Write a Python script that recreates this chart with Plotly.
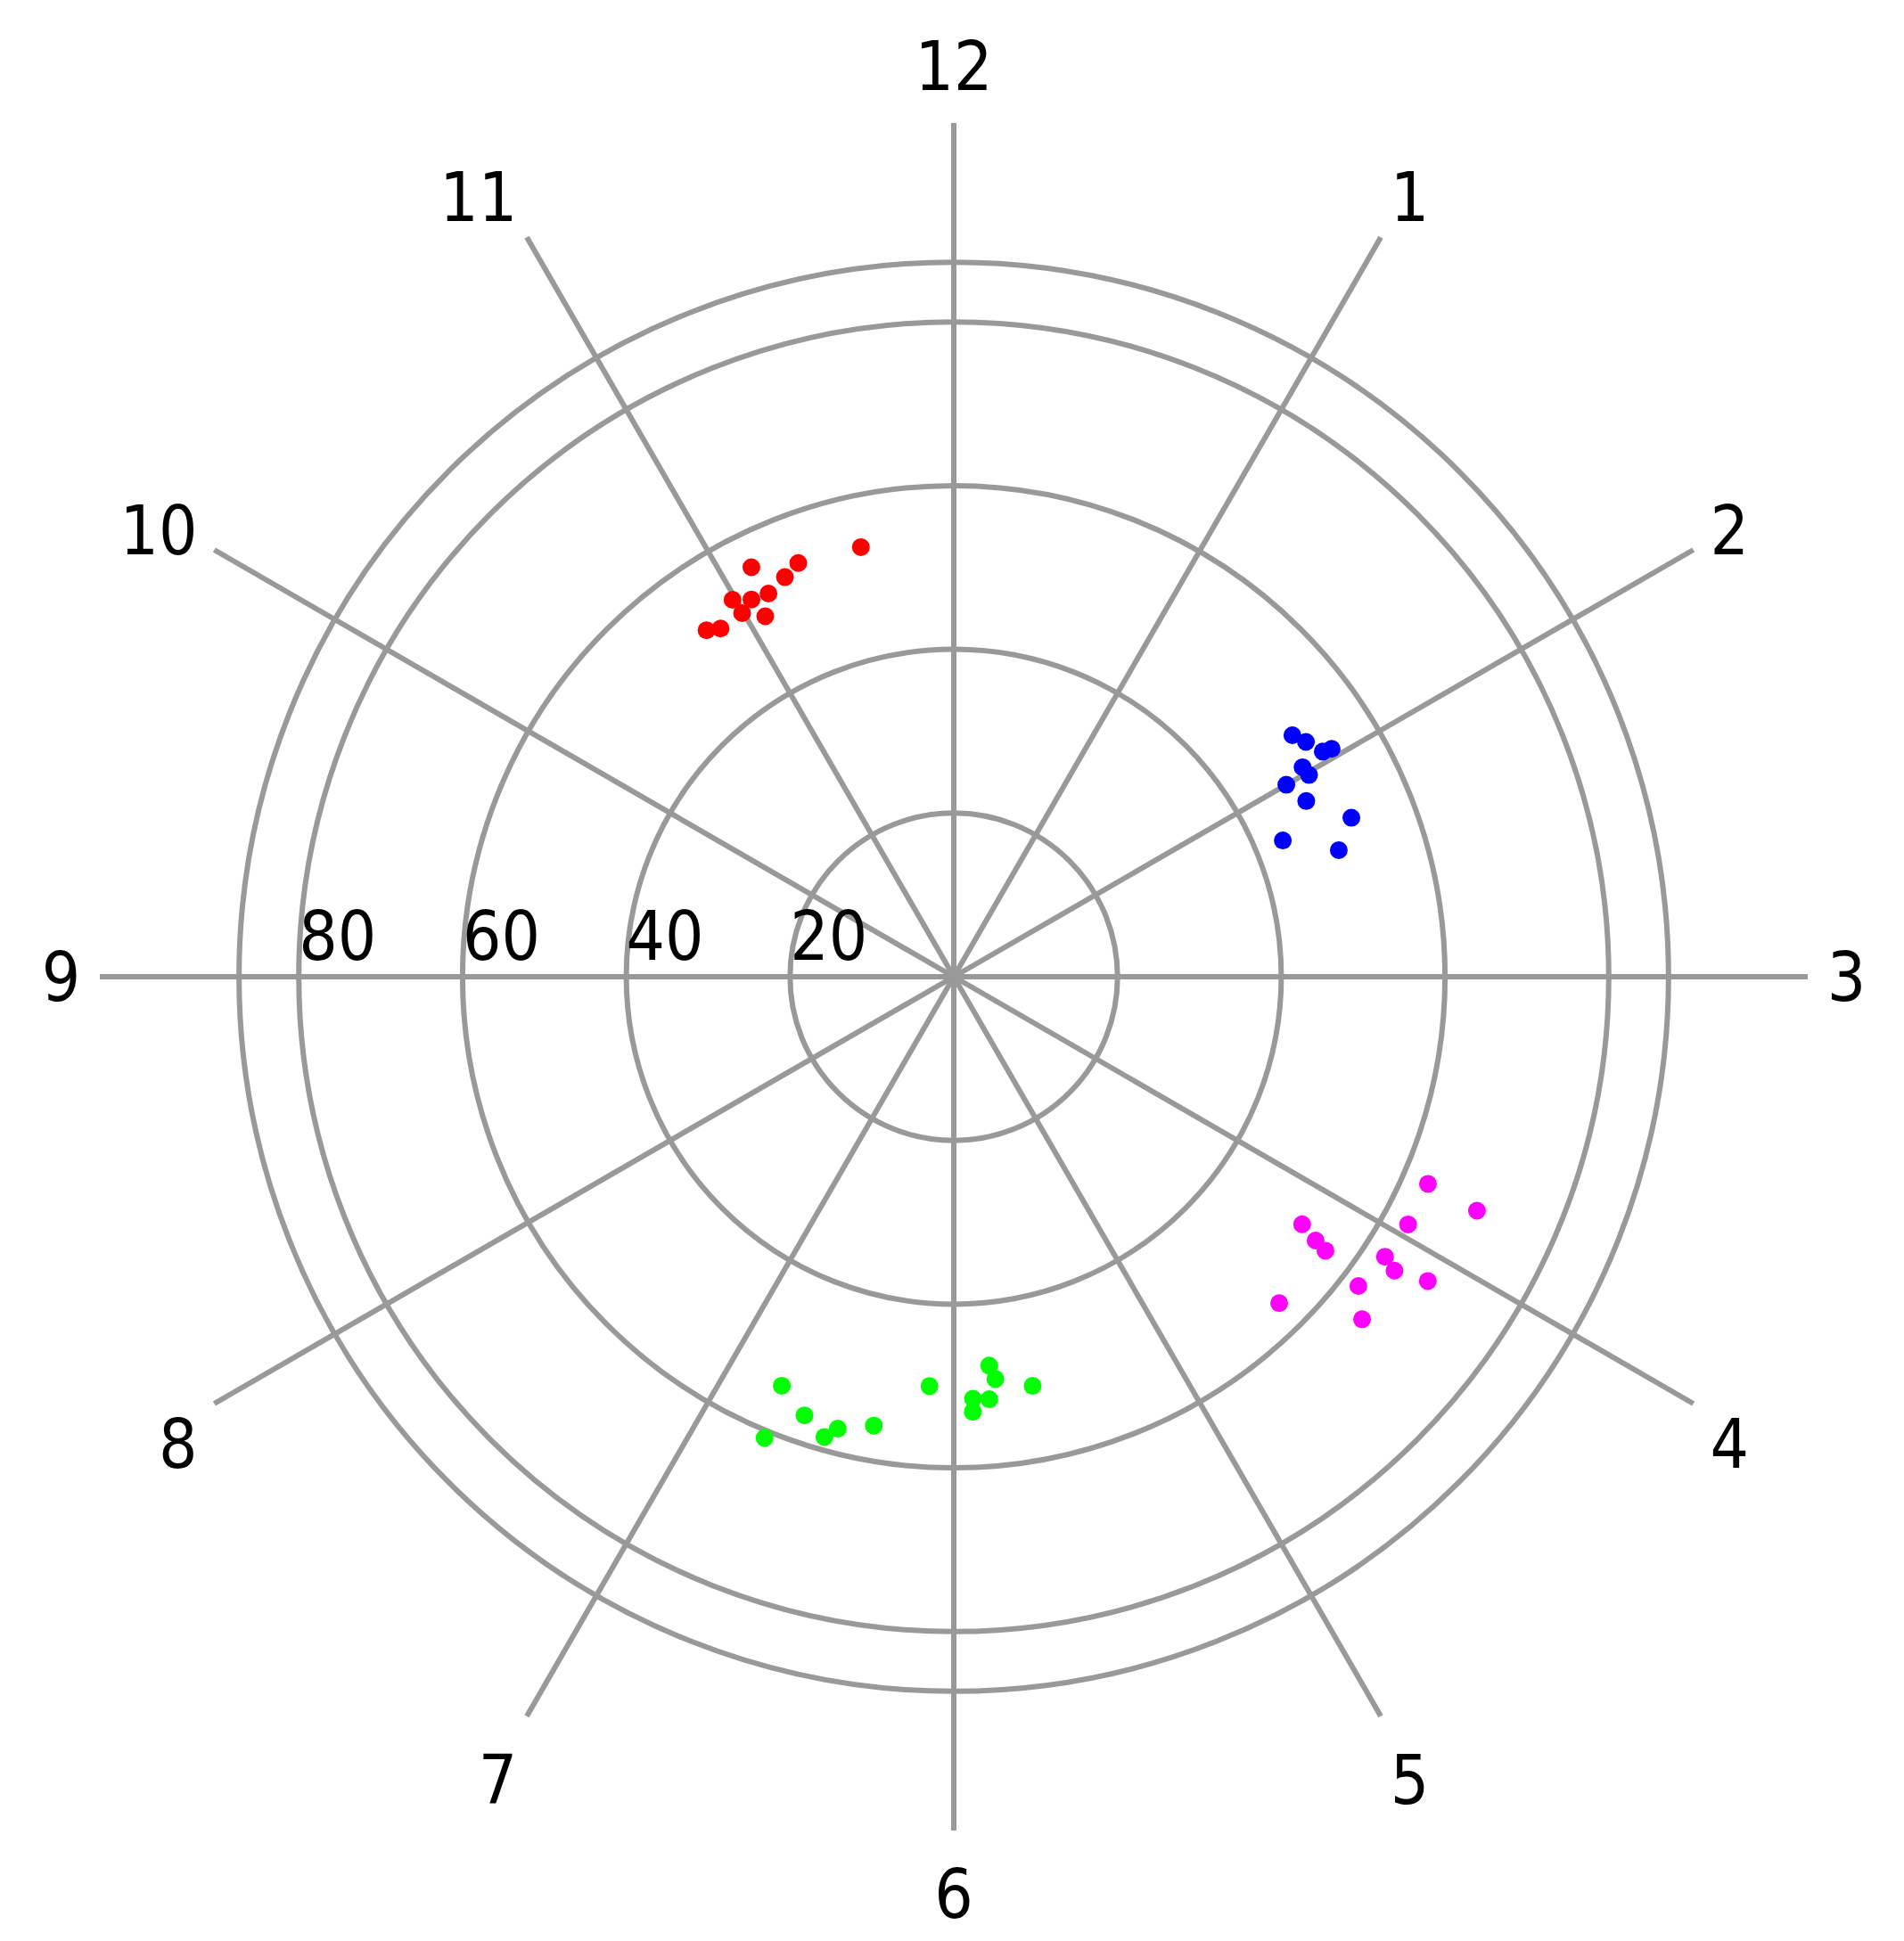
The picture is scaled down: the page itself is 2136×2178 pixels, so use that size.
import plotly.graph_objects as go

# clock-face angular labels (degrees clockwise from 12)
hour_angles = [0, 30, 60, 90, 120, 150, 180, 210, 240, 270, 300, 330]
hour_labels = ["12", "1", "2", "3", "4", "5", "6", "7", "8", "9", "10", "11"]

# radial grid circles (last one is the outer ring without label)
radial_grid = [20, 40, 60, 80, 87.3]
radial_labels = ["20", "40", "60", "80"]

red_r = [53.7, 55.8, 54.0, 53.0, 52.0, 52.3, 53.4, 51.4, 49.7, 51.2, 52.0]
red_theta = [347.8, 333.7, 339.4, 337.1, 334.2, 331.8, 329.6, 329.8, 332.4, 326.2, 324.5]

blue_r = [50.8, 51.7, 52.8, 53.9, 49.7, 49.9, 46.9, 48.1, 52.3, 43.5, 49.5]
blue_theta = [54.5, 56.3, 58.6, 58.9, 59.0, 60.4, 60.0, 63.5, 68.2, 67.5, 71.8]

magenta_r = [63.2, 70.0, 52.2, 63.2, 54.7, 56.4, 62.8, 64.7, 68.8, 62.2, 56.3, 65.1]
magenta_theta = [113.6, 114.1, 125.4, 118.6, 126.1, 126.4, 123.0, 123.7, 122.7, 127.4, 135.1, 130.0]

green_r = [54.2, 50.1, 47.7, 49.4, 50.9, 51.6, 51.8, 53.2, 56.6, 55.7, 57.0, 58.4, 60.9]
green_theta = [202.8, 183.4, 174.8, 174.1, 169.1, 177.4, 175.2, 177.5, 198.8, 190.1, 194.4, 195.7, 202.3]

FONT = "DejaVu Sans Condensed, DejaVu Sans, sans-serif"
GRID = "#999999"

fig = go.Figure()

for r, theta, color in [
    (red_r, red_theta, "#ff0000"),
    (blue_r, blue_theta, "#0000ff"),
    (magenta_r, magenta_theta, "#ff00ff"),
    (green_r, green_theta, "#00ff00"),
]:
    fig.add_trace(
        go.Scatterpolar(
            r=r,
            theta=theta,
            mode="markers",
            marker={"size": 20, "color": color, "line": {"width": 0}},
        )
    )

# radial tick labels along the 9 o'clock spoke
fig.add_trace(
    go.Scatterpolar(
        r=radial_grid[:4],
        theta=[270] * 4,
        mode="text",
        text=radial_labels,
        textposition="top right",
        textfont={"size": 76, "color": "black", "family": FONT},
    )
)

fig.update_layout(
    width=2136,
    height=2178,
    margin={"l": 104, "r": 116, "t": 130, "b": 132},
    paper_bgcolor="white",
    showlegend=False,
    font={"family": FONT, "color": "black"},
    polar={
        "bgcolor": "white",
        "radialaxis": {
            "range": [0, 104.3],
            "tickvals": radial_grid,
            "showticklabels": False,
            "ticks": "",
            "showline": False,
            "gridcolor": GRID,
            "gridwidth": 5.5,
        },
        "angularaxis": {
            "direction": "clockwise",
            "rotation": 90,
            "tickvals": hour_angles,
            "ticktext": hour_labels,
            "tickfont": {"size": 76, "family": FONT, "color": "black"},
            "ticks": "outside",
            "ticklen": 6,
            "tickcolor": "rgba(0,0,0,0)",
            "showline": False,
            "gridcolor": GRID,
            "gridwidth": 5.5,
        },
    },
)

fig.write_html("out.html")
